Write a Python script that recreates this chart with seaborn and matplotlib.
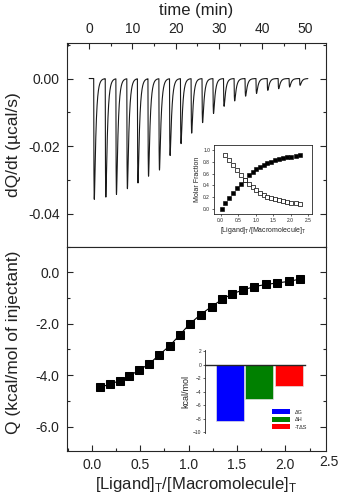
import numpy as np
import pandas as pd
import matplotlib
matplotlib.use("Agg")
import matplotlib.pyplot as plt
import seaborn as sns
from matplotlib.patches import Patch
from matplotlib.ticker import MultipleLocator, FormatStrFormatter

# ---------------- data ----------------
# thermogram: injection start times (min) and peak depths (ucal/s)
inj_time = [1.05, 3.72, 6.18, 8.71, 11.16, 13.6, 16.13, 18.59, 21.12, 23.58,
            26.11, 28.64, 31.08, 33.53, 36.06, 38.59, 41.19, 43.72, 46.25, 48.68]
peak_depth = [-0.0357, -0.0350, -0.0342, -0.0325, -0.0308, -0.0288, -0.0270,
              -0.0227, -0.0192, -0.0161, -0.0130, -0.0103, -0.0082, -0.0066,
              -0.0052, -0.0044, -0.0035, -0.0030, -0.0025, -0.0020]
run_end = 50.6

# integrated heats
ratio = [0.085, 0.188, 0.29, 0.385, 0.488, 0.59, 0.693, 0.806, 0.909, 1.01,
         1.124, 1.237, 1.35, 1.453, 1.566, 1.68, 1.80, 1.915, 2.038, 2.15]
heat = [-4.47, -4.35, -4.21, -4.04, -3.80, -3.57, -3.22, -2.85, -2.43, -2.01,
        -1.64, -1.33, -1.04, -0.83, -0.68, -0.55, -0.47, -0.41, -0.35, -0.26]

# molar fraction inset
frac_x_bound = [0.046, 0.141, 0.246, 0.36, 0.475, 0.58, 0.694, 0.809, 0.913, 1.018,
                1.123, 1.228, 1.333, 1.437, 1.551, 1.666, 1.78, 1.894, 2.009, 2.142, 2.266]
frac_bound = [0.00, 0.10, 0.19, 0.27, 0.35, 0.43, 0.50, 0.57, 0.62, 0.67,
              0.71, 0.75, 0.78, 0.80, 0.83, 0.84, 0.86, 0.87, 0.88, 0.89, 0.91]
frac_x_free = frac_x_bound[1:]
frac_free = [0.92, 0.83, 0.75, 0.66, 0.57, 0.50, 0.43, 0.37, 0.32, 0.28,
             0.24, 0.21, 0.19, 0.17, 0.15, 0.14, 0.12, 0.11, 0.10, 0.09]

# thermodynamic signature inset
thermo_labels = ["\u0394G", "\u0394H", "-T\u0394S"]
thermo_values = [-8.3, -5.1, -3.2]
thermo_colors = ["#0000FF", "#008000", "#FF0000"]

# ---------------- style ----------------
sns.set_theme(style="ticks")
plt.rcParams["font.family"] = ["Liberation Sans", "DejaVu Sans"]
plt.rcParams["axes.linewidth"] = 0.8
TXT = "#222222"

fig = plt.figure(figsize=(3.39, 5.0), dpi=100)
ax1 = fig.add_axes([0.1967, 0.5066, 0.765, 0.4074])
ax2 = fig.add_axes([0.1967, 0.098, 0.765, 0.4086])

# ---------------- thermogram ----------------
t = np.arange(0.0, run_end, 0.005)
power = np.zeros_like(t)
s_grid = np.linspace(0.0001, 3, 6000)
rise, decay = 0.08, 0.38
g_grid = (1 - np.exp(-s_grid / rise)) * np.exp(-s_grid / decay)
gmax = g_grid.max()
for t0, d in zip(inj_time, peak_depth):
    s = t - t0
    m = s > 0
    power[m] += d * (1 - np.exp(-s[m] / rise)) * np.exp(-s[m] / decay) / gmax
df_trace = pd.DataFrame({"time": t, "power": power})
sns.lineplot(data=df_trace, x="time", y="power", ax=ax1, color="#1a1a1a",
             lw=0.8, estimator=None, sort=False)

ax1.set_xlim(-5.2, 54.8)
ax1.set_ylim(-0.0497, 0.0105)
ax1.xaxis.tick_top()
ax1.xaxis.set_label_position("top")
ax1.set_xticks([0, 10, 20, 30, 40, 50])
ax1.xaxis.set_minor_locator(MultipleLocator(5))
ax1.set_yticks([0.0, -0.02, -0.04])
ax1.yaxis.set_major_formatter(FormatStrFormatter("%.2f"))
ax1.yaxis.set_minor_locator(MultipleLocator(0.01))
ax1.tick_params(which="both", direction="in", top=True, bottom=False, left=True,
                right=True, labeltop=True, labelbottom=False, labelsize=10,
                labelcolor=TXT, pad=5)
ax1.tick_params(which="major", length=4, width=0.8)
ax1.tick_params(which="minor", length=2.5, width=0.8)
ax1.set_xlabel("time (min)", fontsize=12, color=TXT, labelpad=5)
ax1.set_ylabel("dQ/dt (\u00b5cal/s)", fontsize=12.5, color=TXT)
ax1.yaxis.set_label_coords(-0.175, 0.5)

# ---------------- integrated heats ----------------
df_heat = pd.DataFrame({"ratio": ratio, "heat": heat})
sns.lineplot(data=df_heat, x="ratio", y="heat", ax=ax2, color="black", lw=0.8,
             marker="s", markersize=5.5, markeredgecolor="black")
ax2.set_xlim(-0.26, 2.42)
ax2.set_ylim(-6.95, 1.0)
ax2.set_xticks([0.0, 0.5, 1.0, 1.5, 2.0])
ax2.xaxis.set_major_formatter(FormatStrFormatter("%.1f"))
ax2.xaxis.set_minor_locator(MultipleLocator(0.25))
ax2.set_yticks([0.0, -2.0, -4.0, -6.0])
ax2.yaxis.set_major_formatter(FormatStrFormatter("%.1f"))
ax2.yaxis.set_minor_locator(MultipleLocator(1.0))
ax2.tick_params(which="both", direction="in", top=False, bottom=True, left=True,
                right=True, labelsize=10, labelcolor=TXT, pad=5)
ax2.tick_params(which="major", length=4, width=0.8)
ax2.tick_params(which="minor", length=2.5, width=0.8)
ax2.text(2.45, -0.056, "2.5", transform=ax2.get_xaxis_transform(), ha="center",
         va="center", fontsize=10, color=TXT, clip_on=False)
ax2.set_xlabel("[Ligand]$_\\mathregular{T}$/[Macromolecule]$_\\mathregular{T}$",
               fontsize=12, color=TXT, labelpad=2)
ax2.set_ylabel("Q (kcal/mol of injectant)", fontsize=12.5, color=TXT)
ax2.yaxis.set_label_coords(-0.175, 0.53)

# ---------------- molar fraction inset ----------------
ax3 = fig.add_axes([0.632, 0.572, 0.2873, 0.138])
sns.scatterplot(x=frac_x_bound, y=frac_bound, ax=ax3, marker="s", s=5,
                color="black", edgecolor="black", linewidth=0.4)
sns.scatterplot(x=frac_x_free, y=frac_free, ax=ax3, marker="s", s=5,
                facecolor="white", edgecolor="black", linewidth=0.5)
ax3.set_xlim(-0.18, 2.6)
ax3.set_ylim(-0.08, 1.08)
ax3.set_xticks([0.0, 0.5, 1.0, 1.5, 2.0, 2.5])
ax3.set_yticks([0.0, 0.2, 0.4, 0.6, 0.8, 1.0])
ax3.xaxis.set_major_formatter(FormatStrFormatter("%.1f"))
ax3.yaxis.set_major_formatter(FormatStrFormatter("%.1f"))
ax3.tick_params(direction="out", length=1.5, width=0.5, labelsize=3.5,
                pad=1.5, labelcolor=TXT)
for sp in ax3.spines.values():
    sp.set_linewidth(0.6)
ax3.set_xlabel("[Ligand]$_\\mathregular{T}$/[Macromolecule]$_\\mathregular{T}$",
               fontsize=5, color=TXT, labelpad=1.5)
ax3.set_ylabel("Molar Fraction", fontsize=5, color=TXT, labelpad=1.5)

# ---------------- thermodynamic inset ----------------
ax4 = fig.add_axes([0.6047, 0.134, 0.295, 0.166])
ax4.set_facecolor("none")
df_th = pd.DataFrame({"term": thermo_labels, "value": thermo_values})
sns.barplot(data=df_th, x="term", y="value", hue="term", palette=thermo_colors,
            ax=ax4, width=0.96, edgecolor="#e0e0e0", linewidth=0.5,
            legend=False, saturation=1)
ax4.set_xlim(-0.853, 2.56)
ax4.set_ylim(-10.1, 2.2)
ax4.set_yticks([2, 0, -2, -4, -6, -8, -10])
ax4.spines["top"].set_visible(False)
ax4.spines["right"].set_visible(False)
ax4.spines["bottom"].set_position(("data", 0))
ax4.spines["bottom"].set_linewidth(1.0)
ax4.spines["left"].set_linewidth(0.6)
ax4.set_xticks([])
ax4.set_xlabel("")
ax4.tick_params(axis="y", direction="out", length=1.5, width=0.5,
                labelsize=3.5, pad=1, labelcolor=TXT)
ax4.set_ylabel("kcal/mol", fontsize=6.5, color=TXT, labelpad=2)
handles = [Patch(facecolor=c, edgecolor="none") for c in thermo_colors]
ax4.legend(handles, thermo_labels, loc="lower right", frameon=False,
           fontsize=4, handlelength=3.2, handleheight=1.1, labelspacing=0.35,
           handletextpad=0.8, bbox_to_anchor=(1.07, -0.02))

fig.savefig("out.png", dpi=100)
